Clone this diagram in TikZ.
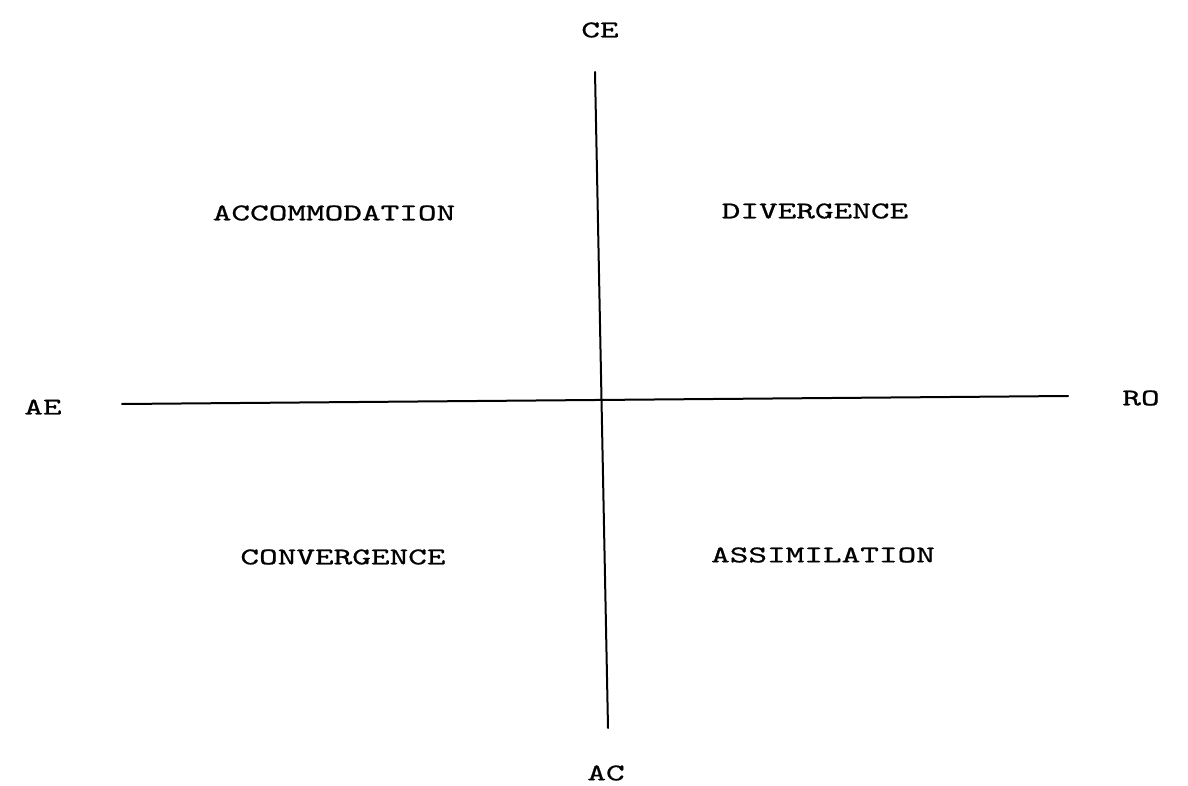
\documentclass[tikz,border=0pt]{standalone}
\usepackage{fontspec}
\usepackage{tikz}
\newfontfamily\typedfont{lmmono10-regular.otf}[FakeBold=0.8,FakeStretch=1.48]
\newcommand{\MainColor}{black}
\tikzset{quadlabel/.style={font=\typedfont\fontsize{12}{14}\selectfont,inner sep=0pt,text=\MainColor},
  axislabel/.style={quadlabel}}

\begin{document}
\begin{tikzpicture}[line cap=round,line join=round,x=0.5pt,y=-0.5pt]
  \useasboundingbox (0,0) rectangle (1188,786);
  \coordinate (ceend) at (595,72);
  \coordinate (acend) at (608,728);
  \coordinate (aeend) at (122,404);
  \coordinate (roend) at (1068,396);
  \draw[line width=1pt,color=\MainColor] (ceend) -- (acend);
  \draw[line width=1pt,color=\MainColor] (aeend) -- (roend);
  \node[axislabel] (ce) at (600,30) {CE};
  \node[axislabel] (ac) at (606,773) {AC};
  \node[axislabel] (ae) at (43,407) {AE};
  \node[axislabel] (ro) at (1141,398) {RO};
  \node[quadlabel] (accom) at (334,213) {ACCOMMODATION};
  \node[quadlabel] (diverg) at (815,211) {DIVERGENCE};
  \node[quadlabel] (converg) at (343,557) {CONVERGENCE};
  \node[quadlabel] (assim) at (823,555) {ASSIMILATION};
\end{tikzpicture}
\end{document}
